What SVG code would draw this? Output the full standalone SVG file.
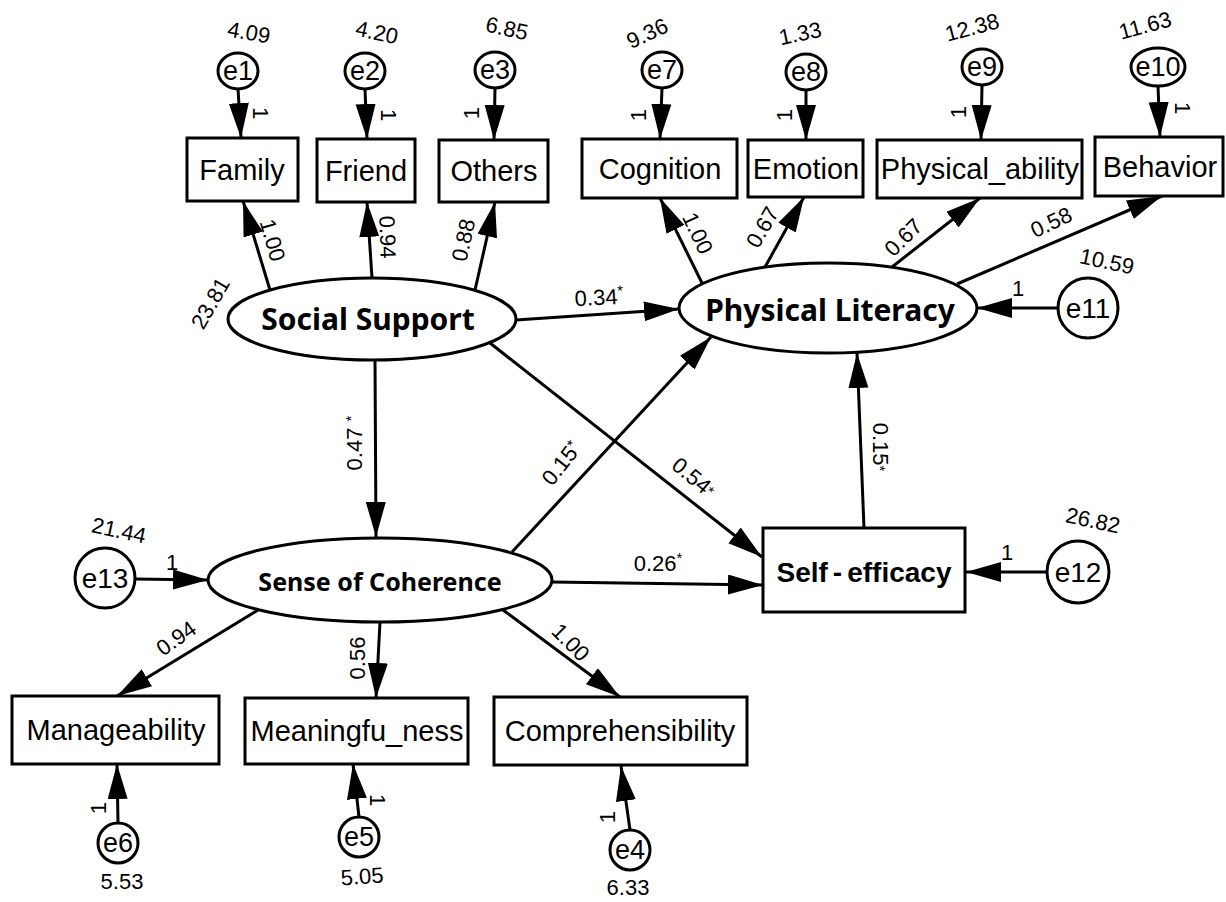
<svg xmlns="http://www.w3.org/2000/svg" width="1226" height="902" viewBox="0 0 1226 902">
<defs>
<style>
.bx{fill:#fff;stroke:#000;stroke-width:3}
.el{fill:#fff;stroke:#000;stroke-width:3}
.ln{fill:none;stroke:#000;stroke-width:3;marker-end:url(#ah)}
.bt{font-family:"Liberation Sans",Arial,sans-serif;font-size:29px;text-anchor:middle;fill:#000}
.lt{font-family:"Noto Sans","Open Sans",sans-serif;font-weight:bold;font-size:30px;text-anchor:middle;fill:#000}
.et{font-family:"Liberation Sans",Arial,sans-serif;font-size:27px;text-anchor:middle;fill:#000}
.nt{font-family:"Liberation Sans",Arial,sans-serif;font-size:22px;text-anchor:middle;fill:#000}
.sup{font-size:15px}
</style>
<marker id="ah" markerUnits="userSpaceOnUse" markerWidth="36" markerHeight="22" refX="35" refY="10" orient="auto"><path d="M0,0 L35,10 L0,20 z" fill="#000"/></marker>
</defs>
<rect width="1226" height="902" fill="#fff"/>

<g id="connectors">
<line class="ln" x1="238" y1="89" x2="241" y2="138"/>
<line class="ln" x1="365" y1="89" x2="367" y2="139"/>
<line class="ln" x1="495" y1="88" x2="494" y2="140"/>
<line class="ln" x1="662" y1="88" x2="660" y2="139"/>
<line class="ln" x1="806" y1="90" x2="806" y2="140"/>
<line class="ln" x1="982" y1="85" x2="981" y2="140"/>
<line class="ln" x1="1158" y1="86" x2="1160" y2="137"/>
<line class="ln" x1="270" y1="290" x2="243" y2="201"/>
<line class="ln" x1="372" y1="278" x2="367" y2="202"/>
<line class="ln" x1="475" y1="290" x2="495" y2="202"/>
<line class="ln" x1="702" y1="283" x2="660" y2="198"/>
<line class="ln" x1="765" y1="267" x2="804" y2="197"/>
<line class="ln" x1="892" y1="267" x2="980" y2="198"/>
<line class="ln" x1="957" y1="284" x2="1162" y2="196"/>
<line class="ln" x1="516" y1="320" x2="679" y2="309"/>
<line class="ln" x1="1058" y1="308" x2="977" y2="308"/>
<line class="ln" x1="375" y1="360" x2="376" y2="537"/>
<line class="ln" x1="490" y1="343" x2="762" y2="557"/>
<line class="ln" x1="512" y1="552" x2="711" y2="337"/>
<line class="ln" x1="864" y1="528" x2="857" y2="353"/>
<line class="ln" x1="135" y1="579" x2="208" y2="580"/>
<line class="ln" x1="552" y1="582" x2="763" y2="585"/>
<line class="ln" x1="1047" y1="572" x2="966" y2="572"/>
<line class="ln" x1="258" y1="610" x2="117" y2="696"/>
<line class="ln" x1="380" y1="622" x2="376" y2="698"/>
<line class="ln" x1="503" y1="610" x2="620" y2="697"/>
<line class="ln" x1="118" y1="823" x2="117" y2="764"/>
<line class="ln" x1="359" y1="817" x2="353" y2="764"/>
<line class="ln" x1="630" y1="830" x2="621" y2="766"/>
</g>

<g id="labels">
<text class="nt" transform="translate(249,32) rotate(10)" y="8">4.09</text>
<text class="nt" transform="translate(377,32) rotate(12)" y="8">4.20</text>
<text class="nt" transform="translate(507,28) rotate(12)" y="8">6.85</text>
<text class="nt" transform="translate(647,33) rotate(-25)" y="8">9.36</text>
<text class="nt" transform="translate(800,33) rotate(-12)" y="8">1.33</text>
<text class="nt" transform="translate(972,27) rotate(-15)" y="8">12.38</text>
<text class="nt" transform="translate(1145,25) rotate(-15)" y="8">11.63</text>
<text class="nt" transform="translate(1107,261) rotate(12)" y="8">10.59</text>
<text class="nt" transform="translate(1093,520) rotate(12)" y="8">26.82</text>
<text class="nt" transform="translate(119,530) rotate(12)" y="8">21.44</text>
<text class="nt" transform="translate(210,303) rotate(-60)" y="8">23.81</text>
<text class="nt" transform="translate(122,881)" y="8">5.53</text>
<text class="nt" transform="translate(362,876) rotate(-4)" y="8">5.05</text>
<text class="nt" transform="translate(628,887)" y="8">6.33</text>

<text class="nt" transform="translate(261,113) rotate(90)" y="8">1</text>
<text class="nt" transform="translate(389,115) rotate(90)" y="8">1</text>
<text class="nt" transform="translate(471,113) rotate(-90)" y="8">1</text>
<text class="nt" transform="translate(638,115) rotate(-90)" y="8">1</text>
<text class="nt" transform="translate(784,115) rotate(-90)" y="8">1</text>
<text class="nt" transform="translate(958,112) rotate(-90)" y="8">1</text>
<text class="nt" transform="translate(1183,108) rotate(90)" y="8">1</text>
<text class="nt" transform="translate(1018,288)" y="8">1</text>
<text class="nt" transform="translate(1007,552)" y="8">1</text>
<text class="nt" transform="translate(172,562)" y="8">1</text>
<text class="nt" transform="translate(98,808) rotate(-90)" y="8">1</text>
<text class="nt" transform="translate(378,800) rotate(90)" y="8">1</text>
<text class="nt" transform="translate(607,817) rotate(-90)" y="8">1</text>

<text class="nt" transform="translate(273,240) rotate(74)" y="8">1.00</text>
<text class="nt" transform="translate(388,237) rotate(88)" y="8">0.94</text>
<text class="nt" transform="translate(463,240) rotate(-78)" y="8">0.88</text>
<text class="nt" transform="translate(698,233) rotate(65)" y="8">1.00</text>
<text class="nt" transform="translate(762,227) rotate(-60)" y="8">0.67</text>
<text class="nt" transform="translate(903,237) rotate(-45)" y="8">0.67</text>
<text class="nt" transform="translate(1051,222) rotate(-25)" y="8">0.58</text>
<text class="nt" transform="translate(599,297) rotate(-3)" y="8">0.34<tspan class="sup" dy="-8">*</tspan></text>
<text class="nt" transform="translate(354,443) rotate(-90)" y="8">0.47 <tspan class="sup" dy="-6">*</tspan></text>
<text class="nt" transform="translate(561,463) rotate(-52)" y="8">0.15<tspan class="sup" dy="-6">*</tspan></text>
<text class="nt" transform="translate(694,477) rotate(40)" y="8">0.54<tspan class="sup" dy="-2">*</tspan></text>
<text class="nt" transform="translate(881,447) rotate(90)" y="8">0.15<tspan class="sup" dy="-2">*</tspan></text>
<text class="nt" transform="translate(658,563)" y="8">0.26<tspan class="sup" dy="-8">*</tspan></text>
<text class="nt" transform="translate(176,638) rotate(-35)" y="8">0.94</text>
<text class="nt" transform="translate(357,658) rotate(-90)" y="8">0.56</text>
<text class="nt" transform="translate(571,642) rotate(45)" y="8">1.00</text>
</g>

<g id="e1"><ellipse class="el" cx="238" cy="71" rx="20" ry="18"/><text class="et" x="238" y="80">e1</text></g>
<g id="e2"><ellipse class="el" cx="365" cy="71" rx="20" ry="18"/><text class="et" x="365" y="80">e2</text></g>
<g id="e3"><ellipse class="el" cx="495" cy="70" rx="20" ry="18"/><text class="et" x="495" y="79">e3</text></g>
<g id="e7"><ellipse class="el" cx="662" cy="70" rx="20" ry="18"/><text class="et" x="662" y="79">e7</text></g>
<g id="e8"><ellipse class="el" cx="806" cy="72" rx="20" ry="18"/><text class="et" x="806" y="81">e8</text></g>
<g id="e9"><ellipse class="el" cx="982" cy="67" rx="20" ry="18"/><text class="et" x="982" y="76">e9</text></g>
<g id="e10"><ellipse class="el" cx="1158" cy="67" rx="27" ry="19"/><text class="et" x="1158" y="76">e10</text></g>

<g id="Family"><rect class="bx" x="187" y="138" width="111" height="63"/><text class="bt" x="242" y="180">Family</text></g>
<g id="Friend"><rect class="bx" x="317" y="139" width="98" height="63"/><text class="bt" x="366" y="181">Friend</text></g>
<g id="Others"><rect class="bx" x="439" y="140" width="109" height="62"/><text class="bt" x="494" y="181">Others</text></g>
<g id="Cognition"><rect class="bx" x="582" y="139" width="155" height="59"/><text class="bt" x="660" y="179">Cognition</text></g>
<g id="Emotion"><rect class="bx" x="748" y="140" width="115" height="57"/><text class="bt" x="806" y="179">Emotion</text></g>
<g id="Physical_ability"><rect class="bx" x="877" y="140" width="205" height="58"/><text class="bt" x="980" y="179">Physical_ability</text></g>
<g id="Behavior"><rect class="bx" x="1095" y="137" width="128" height="59"/><text class="bt" x="1160" y="177">Behavior</text></g>

<g id="SocialSupport"><ellipse class="el" cx="372" cy="319" rx="144" ry="41"/><text class="lt" x="368" y="330">Social Support</text></g>
<g id="PhysicalLiteracy"><ellipse class="el" cx="828" cy="308" rx="149" ry="45"/><text class="lt" x="830" y="321">Physical Literacy</text></g>
<g id="e11"><circle class="el" cx="1088" cy="308" r="30"/><text class="et" x="1088" y="318" style="font-size:28px">e11</text></g>

<g id="SenseOfCoherence"><ellipse class="el" cx="380" cy="580" rx="172" ry="42"/><text class="lt" x="380" y="591" style="font-size:25px">Sense of Coherence</text></g>
<g id="e13"><circle class="el" cx="105" cy="578" r="30"/><text class="et" x="105" y="588" style="font-size:28px">e13</text></g>

<g id="SelfEfficacy"><rect class="bx" x="763" y="528" width="202" height="84"/><text class="bt" x="864" y="582" style="font-weight:bold;font-size:28px">Self<tspan dx="5">-</tspan><tspan dx="5">efficacy</tspan></text></g>
<g id="e12"><circle class="el" cx="1078" cy="572" r="31"/><text class="et" x="1078" y="582" style="font-size:28px">e12</text></g>

<g id="Manageability"><rect class="bx" x="12" y="696" width="207" height="68"/><text class="bt" x="116" y="740">Manageability</text></g>
<g id="Meaningfu_ness"><rect class="bx" x="245" y="698" width="223" height="66"/><text class="bt" x="357" y="741">Meaningfu_ness</text></g>
<g id="Comprehensibility"><rect class="bx" x="494" y="697" width="253" height="68"/><text class="bt" x="620" y="741">Comprehensibility</text></g>

<g id="e6"><ellipse class="el" cx="118" cy="843" rx="20" ry="20"/><text class="et" x="118" y="852">e6</text></g>
<g id="e5"><ellipse class="el" cx="359" cy="837" rx="20" ry="20"/><text class="et" x="359" y="846">e5</text></g>
<g id="e4"><ellipse class="el" cx="630" cy="850" rx="20" ry="20"/><text class="et" x="630" y="859">e4</text></g>
</svg>
